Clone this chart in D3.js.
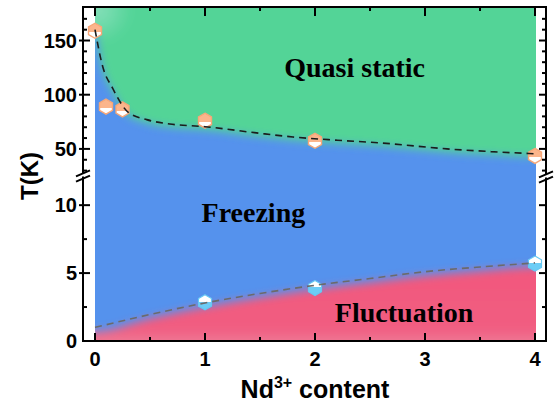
<!DOCTYPE html>
<html><head><meta charset="utf-8">
<script src="https://cdn.jsdelivr.net/npm/d3@7"></script>
<style>body{margin:0;background:#fff}svg{display:block}</style>
</head><body><svg id="c" width="559" height="407"></svg>
<script>
// ---- data ----
const upperX = [0, 0.1, 0.25, 1, 2, 4];
const upperT = [159, 89, 86.5, 76, 57.5, 43.5];
const lowerX = [1, 2, 4];
const lowerT = [2.85, 3.9, 5.7];
const upperCurveX = [0, 0.07, 0.16, 0.3, 0.47, 0.68, 1, 1.45, 1.8, 2.2, 2.6, 3.2, 3.6, 4];
const upperCurveT = [160, 126, 106, 84, 77, 73, 70.5, 65, 61, 58, 55.5, 50, 47.5, 45.5];
const lowerCurveX = [0, 0.5, 1, 1.5, 2, 2.5, 3, 3.5, 4];
const lowerCurveT = [1.0, 1.95, 2.8, 3.5, 4.1, 4.6, 5.1, 5.45, 5.75];
const xTicks = [0, 1, 2, 3, 4];
const xMinorTicks = [0.5, 1.5, 2.5, 3.5];
const upperTicks = [50, 100, 150];
const upperMinorTicks = [30, 40, 60, 70, 80, 90, 110, 120, 130, 140, 160, 170];
const lowerTicks = [0, 5, 10];
const lowerMinorTicks = [2.5, 7.5];
const regionLabels = ["Quasi static", "Freezing", "Fluctuation"];

// ---- layout ----
const svg = d3.select("#c");
const L = 83, R = 546, T = 7, B = 341;
const x = d3.scaleLinear().domain([0, 4]).range([95, 535]);
const yU = d3.scaleLinear().domain([25, 180]).range([176, 8]);
const yL = d3.scaleLinear().domain([0, 12]).range([341, 178]);

const defs = svg.append("defs");
defs.append("clipPath").attr("id", "clip").append("rect")
  .attr("x", x(0)).attr("y", T + 1).attr("width", x(4) - x(0) + 1).attr("height", B - T - 1);
defs.append("filter").attr("id", "blur").attr("x", "-20%").attr("y", "-20%").attr("width", "140%").attr("height", "140%")
  .append("feGaussianBlur").attr("stdDeviation", 4.5);
const pg = defs.append("linearGradient").attr("id", "pinkG").attr("gradientUnits", "userSpaceOnUse")
  .attr("x1", 0).attr("x2", 0).attr("y1", 280).attr("y2", 345);
pg.append("stop").attr("offset", 0).attr("stop-color", "#f2597e");
pg.append("stop").attr("offset", 0.75).attr("stop-color", "#f15d81");
pg.append("stop").attr("offset", 1).attr("stop-color", "#ee7d98");
const gg = defs.append("radialGradient").attr("id", "greenG").attr("gradientUnits", "userSpaceOnUse")
  .attr("cx", 98).attr("cy", 10).attr("r", 35);
gg.append("stop").attr("offset", 0).attr("stop-color", "#85dfb9");
gg.append("stop").attr("offset", 1).attr("stop-color", "#52d497");
const og = defs.append("linearGradient").attr("id", "orangeM").attr("x1", 0).attr("x2", 0).attr("y1", 0).attr("y2", 1);
og.append("stop").attr("offset", 0.6).attr("stop-color", "#fbb58c");
og.append("stop").attr("offset", 0.6).attr("stop-color", "#ffffff");
og.append("stop").attr("offset", 1).attr("stop-color", "#ffffff");
const bg = defs.append("linearGradient").attr("id", "blueM").attr("x1", 0).attr("x2", 0).attr("y1", 0).attr("y2", 1);
bg.append("stop").attr("offset", 0.45).attr("stop-color", "#ffffff");
bg.append("stop").attr("offset", 0.45).attr("stop-color", "#6ccdf6");
bg.append("stop").attr("offset", 1).attr("stop-color", "#6ccdf6");

// ---- colored regions ----
const fillG = svg.append("g").attr("clip-path", "url(#clip)");
fillG.append("rect").attr("x", x(0)).attr("y", T).attr("width", x(4) - x(0) + 1).attr("height", B - T).attr("fill", "#5592ed");
const blurG = fillG.append("g").attr("filter", "url(#blur)");
const curveLine = d3.line().curve(d3.curveMonotoneX);

const upPts = upperCurveX.map((v, i) => [x(v), yU(upperCurveT[i]) + 3]);
const upExt = [[x(-0.4), upPts[0][1]], ...upPts, [x(4.4), upPts[upPts.length - 1][1]]];
blurG.append("path")
  .attr("d", curveLine(upExt) + `L${x(4.4)},-40L${x(-0.4)},-40Z`)
  .attr("fill", "url(#greenG)");

const loPts = lowerCurveX.map((v, i) => [x(v), yL(lowerCurveT[i]) + 4]);
const loExt = [[x(-0.4), loPts[0][1]], ...loPts, [x(4.4), loPts[loPts.length - 1][1]]];
blurG.append("path")
  .attr("d", curveLine(loExt) + `L${x(4.4)},390L${x(-0.4)},390Z`)
  .attr("fill", "url(#pinkG)");

// ---- markers ----
const hex = (r) => d3.range(6).map(i => {
  const a = (-90 + 60 * i) * Math.PI / 180;
  return [r * Math.cos(a), r * Math.sin(a)];
});
const hexPath = "M" + hex(7.5).map(p => p.join(",")).join("L") + "Z";
svg.append("g").selectAll("path").data(upperX).join("path")
  .attr("d", hexPath)
  .attr("transform", (d, i) => `translate(${x(d)},${yU(upperT[i])})`)
  .attr("fill", "url(#orangeM)").attr("stroke", "#f7a778").attr("stroke-width", 1.4);
svg.append("g").selectAll("path").data(lowerX).join("path")
  .attr("d", hexPath)
  .attr("transform", (d, i) => `translate(${x(d)},${yL(lowerT[i])})`)
  .attr("fill", "url(#blueM)").attr("stroke", "#66c8f3").attr("stroke-width", 1.2);

// ---- dashed lines ----
svg.append("path").attr("d", curveLine(upperCurveX.map((v, i) => [x(v), yU(upperCurveT[i])])))
  .attr("fill", "none").attr("stroke", "#1c1c1c").attr("stroke-width", 1.6).attr("stroke-dasharray", "7,5");
svg.append("path").attr("d", curveLine(lowerCurveX.map((v, i) => [x(v), yL(lowerCurveT[i])])))
  .attr("fill", "none").attr("stroke", "#6b6b6b").attr("stroke-width", 1.6).attr("stroke-dasharray", "7,5");

// ---- axes ----
const ax = svg.append("g").attr("stroke", "#000").attr("stroke-width", 2).attr("fill", "none");
ax.append("rect").attr("x", L).attr("y", T).attr("width", R - L).attr("height", B - T);
xTicks.forEach(t => {
  ax.append("line").attr("x1", x(t)).attr("x2", x(t)).attr("y1", B).attr("y2", B - 8);
  ax.append("line").attr("x1", x(t)).attr("x2", x(t)).attr("y1", T).attr("y2", T + 9);
});
xMinorTicks.forEach(t => {
  ax.append("line").attr("x1", x(t)).attr("x2", x(t)).attr("y1", B).attr("y2", B - 4);
  ax.append("line").attr("x1", x(t)).attr("x2", x(t)).attr("y1", T).attr("y2", T + 4);
});
const yMaj = [...upperTicks.map(yU), ...lowerTicks.filter(t => t > 0).map(yL)];
const yMin = [...upperMinorTicks.map(yU), ...lowerMinorTicks.map(yL)];
yMaj.forEach(yy => {
  ax.append("line").attr("x1", L - 4).attr("x2", L + 7).attr("y1", yy).attr("y2", yy);
  ax.append("line").attr("x1", R).attr("x2", R - 7).attr("y1", yy).attr("y2", yy);
});
yMin.forEach(yy => {
  ax.append("line").attr("x1", L).attr("x2", L + 4).attr("y1", yy).attr("y2", yy);
  ax.append("line").attr("x1", R).attr("x2", R - 4).attr("y1", yy).attr("y2", yy);
});
[[L, 176], [R, 177]].forEach(([bx, by]) => {
  ax.append("line").attr("x1", bx - 3).attr("x2", bx + 3).attr("y1", by - 1).attr("y2", by - 1).attr("stroke", "#fff").attr("stroke-width", 3);
  [-2.6, 2.6].forEach(o => {
    ax.append("line").attr("x1", bx - 7).attr("x2", bx + 7).attr("y1", by + o + 3).attr("y2", by + o - 3);
  });
});

// ---- labels ----
const font = "'Liberation Sans', Arial, sans-serif";
const tl = svg.append("g").attr("font-family", font).attr("font-weight", "bold").attr("font-size", 20).attr("fill", "#000");
xTicks.forEach(t => tl.append("text").attr("x", x(t)).attr("y", 366).attr("text-anchor", "middle").text(t));
upperTicks.forEach(t => tl.append("text").attr("x", L - 6).attr("y", yU(t)).attr("dy", "0.36em").attr("text-anchor", "end").text(t));
lowerTicks.forEach(t => tl.append("text").attr("x", L - 6).attr("y", yL(t)).attr("dy", "0.36em").attr("text-anchor", "end").text(t));

const xt = svg.append("text").attr("x", 315).attr("y", 398).attr("text-anchor", "middle")
  .attr("font-family", font).attr("font-weight", "bold").attr("font-size", 25);
xt.append("tspan").text("Nd");
xt.append("tspan").attr("dy", -10).attr("font-size", 16).text("3+");
xt.append("tspan").attr("dy", 10).text(" content");

svg.append("text").attr("transform", "translate(38,176) rotate(-90)").attr("text-anchor", "middle")
  .attr("font-family", font).attr("font-weight", "bold").attr("font-size", 24).text("T(K)");

const serif = "'Liberation Serif', 'Times New Roman', serif";
const rl = svg.append("g").attr("font-family", serif).attr("font-weight", "bold").attr("font-size", 28).attr("text-anchor", "middle").attr("fill", "#000");
rl.append("text").attr("x", x(2.36)).attr("y", yU(116.5)).text(regionLabels[0]);
rl.append("text").attr("x", x(1.44)).attr("y", yL(8.76)).text(regionLabels[1]);
rl.append("text").attr("x", x(2.81)).attr("y", yL(1.4)).text(regionLabels[2]);
</script></body></html>
